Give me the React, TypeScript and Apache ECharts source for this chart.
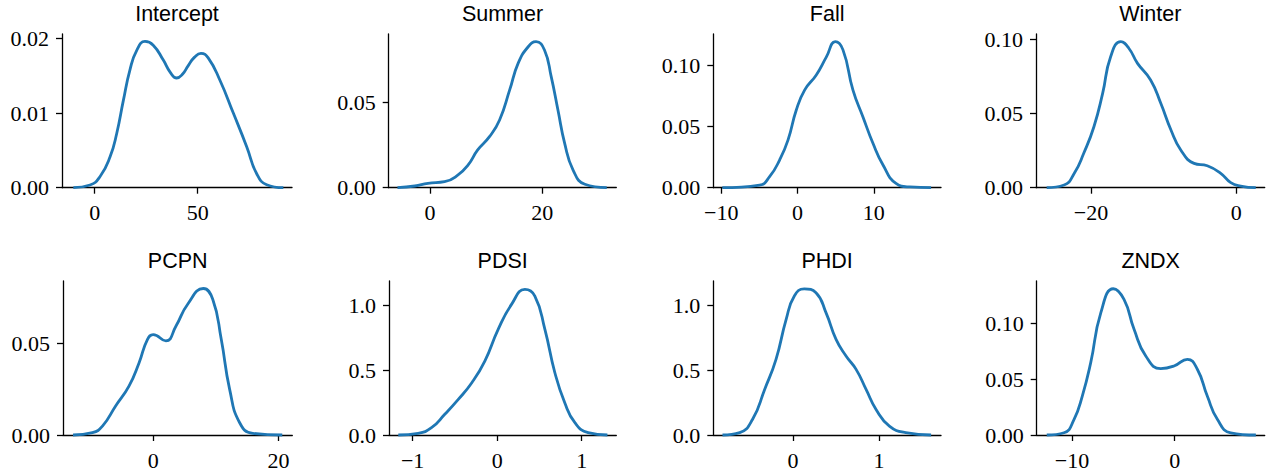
import React, { useEffect, useRef } from "react";
import * as echarts from "echarts";

// ---- data ----
const titles = ["Intercept", "Summer", "Fall", "Winter", "PCPN", "PDSI", "PHDI", "ZNDX"];

const interceptX = [-10.4, -2.3, 2.6, 7.4, 10.7, 13.9, 17.1, 20.4, 24.4, 28.4, 33.3, 36.6, 39.8, 42.6, 45.5, 48.5, 51.6, 55.1, 60.8, 67.3, 73.8, 78.6, 83.5, 91.6];
const interceptY = [0, 0.00036, 0.0015, 0.0041, 0.0073, 0.0117, 0.0158, 0.0184, 0.0196, 0.0191, 0.0171, 0.0155, 0.0147, 0.0152, 0.0164, 0.0175, 0.018, 0.0174, 0.0144, 0.01, 0.0055, 0.0019, 0.0004, 0];

const summerX = [-5.8, -2.7, -0.36, 2.6, 5.0, 6.8, 8.5, 10.6, 12.4, 14.2, 15.7, 17.5, 18.9, 20.4, 21.6, 22.8, 24.0, 25.5, 27.6, 31.5];
const summerY = [0, 0.001, 0.0026, 0.0035, 0.0075, 0.0134, 0.0222, 0.03, 0.0398, 0.0575, 0.0731, 0.0829, 0.0859, 0.081, 0.0653, 0.0457, 0.0261, 0.0104, 0.002, 0];

const fallX = [-9.87, -4.98, -3.67, -2.36, -1.26, -0.17, 0.92, 2.45, 3.76, 4.94, 5.95, 7.26, 8.57, 9.88, 11.2, 12.9, 14.7, 17.5];
const fallY = [0, 0.0022, 0.009, 0.0227, 0.039, 0.0637, 0.08, 0.0924, 0.107, 0.1197, 0.113, 0.08, 0.058, 0.0364, 0.0186, 0.0036, 0.0006, 0];

const winterX = [-26.1, -23.7, -22.3, -21.0, -19.6, -18.4, -17.3, -15.9, -14.8, -13.6, -11.8, -10.4, -9.0, -7.65, -5.82, -4.0, -2.15, -0.77, 0.6, 2.67];
const winterY = [0, 0.0018, 0.0097, 0.0232, 0.0411, 0.0636, 0.0883, 0.0984, 0.094, 0.0838, 0.0726, 0.0569, 0.0389, 0.0254, 0.0164, 0.0148, 0.0097, 0.0034, 0.0011, 0];

const pcpnX = [-12.8, -9.7, -8.1, -6.0, -3.85, -2.25, -0.91, 0, 2.03, 3.64, 5.5, 8.0, 9.5, 10.86, 12.2, 13.8, 15.9, 20.6];
const pcpnY = [0, 0.0013, 0.0049, 0.0159, 0.0269, 0.0396, 0.0524, 0.055, 0.0515, 0.0597, 0.0716, 0.0802, 0.0743, 0.0524, 0.025, 0.0067, 0.0009, 0];

const pdsiX = [-1.17, -0.935, -0.777, -0.62, -0.46, -0.3, -0.146, 0.012, 0.17, 0.328, 0.446, 0.565, 0.683, 0.8, 0.92, 1.077, 1.305];
const pdsiY = [0, 0.013, 0.056, 0.159, 0.274, 0.402, 0.569, 0.813, 1.005, 1.12, 1.069, 0.813, 0.479, 0.248, 0.095, 0.018, 0];

const phdiX = [-0.82, -0.62, -0.47, -0.33, -0.198, -0.08, 0.015, 0.131, 0.267, 0.384, 0.5, 0.616, 0.733, 0.849, 0.965, 1.12, 1.31, 1.605];
const phdiY = [0, 0.018, 0.121, 0.351, 0.582, 0.89, 1.069, 1.125, 1.095, 0.94, 0.736, 0.608, 0.505, 0.351, 0.197, 0.069, 0.018, 0];

const zndxX = [-12.46, -10.78, -9.8, -9.0, -8.18, -7.2, -5.98, -4.94, -3.96, -2.82, -1.36, -0.07, 1.23, 2.2, 3.17, 4.15, 5.45, 7.9];
const zndxY = [0, 0.002, 0.014, 0.0348, 0.0646, 0.109, 0.1306, 0.121, 0.0944, 0.0705, 0.0592, 0.0616, 0.0676, 0.0587, 0.0348, 0.014, 0.002, 0];

const xTicks = [[0, 50], [0, 20], [-10, 0, 10], [-20, 0], [0, 20], [-1, 0, 1], [0, 1], [-10, 0]];
const yTicks = [[0, 0.01, 0.02], [0, 0.05], [0, 0.05, 0.1], [0, 0.05, 0.1], [0, 0.05], [0, 0.5, 1.0], [0, 0.5, 1.0], [0, 0.05, 0.1]];
const yDecimals = [2, 2, 2, 2, 2, 1, 1, 2];

const seriesX = [interceptX, summerX, fallX, winterX, pcpnX, pdsiX, phdiX, zndxX];
const seriesY = [interceptY, summerY, fallY, winterY, pcpnY, pdsiY, phdiY, zndxY];

// axis ranges (matplotlib-like 5% margins)
const xRanges = [[-15.9, 95.8], [-7.36, 33.2], [-11.05, 18.8], [-27.57, 3.9], [-14.4, 22.2], [-1.28, 1.41], [-0.927, 1.72], [-13.44, 8.76]];
const yMaxs = [0.0206, 0.0904, 0.126, 0.1036, 0.0843, 1.185, 1.185, 0.1375];

// ---- layout ----
const gridBoxes = [
  { left: 62, top: 34, width: 230, height: 153.7 },
  { left: 388.7, top: 34, width: 227.6, height: 153.7 },
  { left: 713.3, top: 34, width: 227.7, height: 153.7 },
  { left: 1036, top: 34, width: 228.7, height: 153.7 },
  { left: 63, top: 281, width: 229.3, height: 154 },
  { left: 389, top: 281, width: 227.3, height: 154 },
  { left: 713.3, top: 281, width: 227.7, height: 154 },
  { left: 1036.7, top: 281, width: 228, height: 154 },
];
const titleY = [13.5, 13.5, 13.5, 13.5, 260.7, 260.7, 260.7, 260.7];

const fmtX = (v: number) => (v < 0 ? "\u2212" + String(Math.abs(v)) : String(v));

export default function App() {
  const ref = useRef<HTMLDivElement>(null);
  useEffect(() => {
    if (!ref.current) return;
    const chart = echarts.init(ref.current, null, { renderer: "svg" });
    const axisStyle = { color: "#000", width: 1.3 };
    const labelFont = { fontFamily: "Liberation Serif", fontSize: 22, color: "#000" };
    const grids = gridBoxes.map((g) => ({ ...g, containLabel: false }));
    const xAxes = xRanges.map((r, i) => ({
      type: "value",
      gridIndex: i,
      min: r[0],
      max: r[1],
      splitLine: { show: false },
      axisLine: { show: true, onZero: false, lineStyle: axisStyle },
      axisTick: { show: true, length: 6, lineStyle: axisStyle, customValues: xTicks[i] },
      axisLabel: { ...labelFont, margin: 14, customValues: xTicks[i], formatter: (v: number) => fmtX(v) },
    }));
    const yAxes = yMaxs.map((m, i) => ({
      type: "value",
      gridIndex: i,
      min: 0,
      max: m,
      splitLine: { show: false },
      axisLine: { show: true, onZero: false, lineStyle: axisStyle },
      axisTick: { show: true, length: 6, lineStyle: axisStyle, customValues: yTicks[i] },
      axisLabel: { ...labelFont, margin: 13, customValues: yTicks[i], formatter: (v: number) => v.toFixed(yDecimals[i]) },
    }));
    const series = seriesX.map((xs, i) => ({
      type: "line",
      xAxisIndex: i,
      yAxisIndex: i,
      data: xs.map((x, j) => [x, seriesY[i][j]]),
      showSymbol: false,
      smooth: true,
      lineStyle: { color: "#1f77b4", width: 2.8 },
      clip: false,
    }));
    const graphic = titles.map((t, i) => ({
      type: "text",
      x: gridBoxes[i].left + gridBoxes[i].width / 2,
      y: titleY[i],
      style: {
        text: t,
        fontFamily: "Liberation Sans",
        fontSize: 21.5,
        fill: "#000",
        textAlign: "center",
        textVerticalAlign: "middle",
        align: "center",
        verticalAlign: "middle",
      },
    }));
    chart.setOption({
      animation: false,
      backgroundColor: "#fff",
      grid: grids,
      xAxis: xAxes,
      yAxis: yAxes,
      series,
      graphic,
    });
    return () => chart.dispose();
  }, []);
  return (
    <div
      ref={ref}
      style={{ position: "fixed", left: 0, top: 0, width: 1274, height: 473, background: "#fff" }}
    />
  );
}
